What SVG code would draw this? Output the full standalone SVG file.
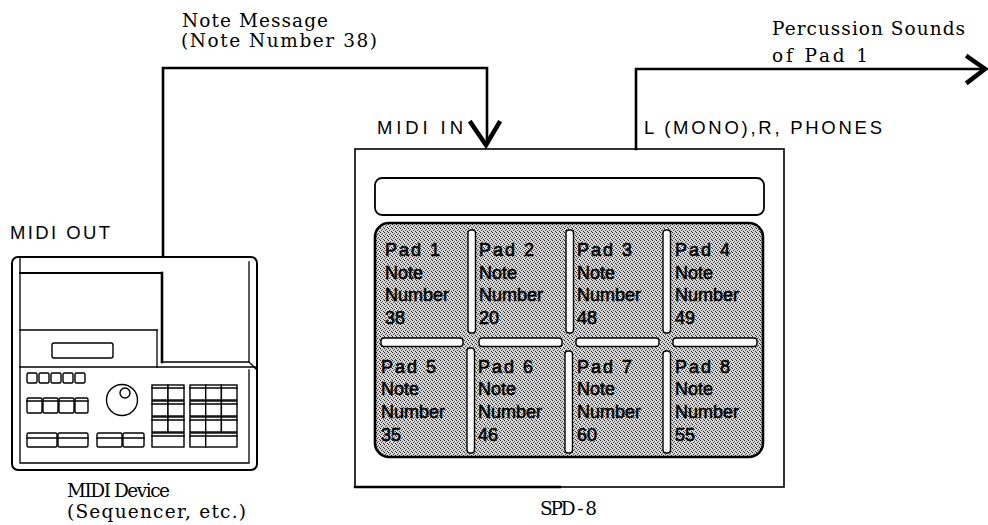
<svg xmlns="http://www.w3.org/2000/svg" width="988" height="525" viewBox="0 0 988 525">
  <defs>
    <pattern id="stipple" width="4" height="4" patternUnits="userSpaceOnUse">
      <rect width="4" height="4" fill="#d6d6d6"/>
      <rect x="0" y="0" width="1" height="1" fill="#222"/>
      <rect x="2" y="1" width="1" height="1" fill="#555"/>
      <rect x="1" y="2" width="1" height="1" fill="#444"/>
      <rect x="3" y="3" width="1" height="1" fill="#333"/>
    </pattern>
  </defs>
  <style>
    .ln { fill: none; stroke: #000; stroke-linecap: square; }
    .thin { stroke-width: 1.3; }
    .mid { stroke-width: 2; }
    .thick { stroke-width: 2.6; }
    .btn { fill: #fff; stroke: #000; stroke-width: 1.4; }
    .bar { fill: #fff; stroke: #000; stroke-width: 1.4; }
    .serif { font-family: "DejaVu Serif", "Liberation Serif", serif; font-size: 18.5px; fill: #000; }
    .sans { font-family: "Liberation Sans", Arial, sans-serif; font-size: 18.5px; fill: #000; }
    .pad { font-family: "Liberation Sans", Arial, sans-serif; font-size: 18px; fill: #000; stroke: #000; stroke-width: 0.55; }
  </style>

  <rect width="988" height="525" fill="#fff"/>

  <!-- Connectors -->
  <g id="connectors">
    <!-- MIDI OUT -> MIDI IN -->
    <polyline class="ln thick" points="163,256 163,68 487,68 487,140" stroke-linecap="butt"/>
    <polyline class="ln" points="471,123 486,145 499,123" stroke-width="4.5" stroke-linejoin="miter" stroke-linecap="butt"/>
    <!-- outputs -> external -->
    <polyline class="ln thick" points="636,149 636,69 982,69" stroke-linecap="butt"/>
    <polyline class="ln" points="968,57 985,69 968,82" stroke-width="4.5" stroke-linejoin="miter" stroke-linecap="butt"/>
  </g>

  <!-- Connector labels -->
  <g id="labels">
    <text class="serif" x="182" y="27" textLength="146" lengthAdjust="spacing">Note Message</text>
    <text class="serif" x="181" y="47" textLength="196" lengthAdjust="spacing">(Note Number 38)</text>
    <text class="serif" x="772" y="35" textLength="193" lengthAdjust="spacing">Percussion Sounds</text>
    <text class="serif" x="772" y="62" textLength="96" lengthAdjust="spacing">of Pad 1</text>
    <text class="sans" x="10" y="239" textLength="100" lengthAdjust="spacing">MIDI OUT</text>
    <text class="sans" x="377" y="134" textLength="86" lengthAdjust="spacing">MIDI IN</text>
    <text class="sans" x="644" y="134" textLength="238" lengthAdjust="spacing">L (MONO),R,  PHONES</text>
  </g>

  <!-- MIDI device (sequencer) -->
  <g id="midi-device">
    <rect x="12" y="257" width="245" height="213" rx="6" class="ln mid"/>
    <!-- inner frame -->
    <polyline class="ln thin" points="20,258 20,463 249,463 249,370"/>
    <polyline class="ln thin" points="249,262 249,362 162,362"/>
    <line class="ln thin" x1="249" y1="362" x2="257" y2="370"/>
    <line class="ln thin" x1="20" y1="367" x2="256" y2="367"/>
    <!-- lid and display section -->
    <line class="ln mid" x1="20" y1="273" x2="162" y2="273"/>
    <line class="ln" x1="162" y1="273" x2="162" y2="362" stroke-width="2.6"/>
    <line class="ln thin" x1="20" y1="330" x2="157" y2="330"/>
    <line class="ln thin" x1="157" y1="330" x2="157" y2="367"/>
    <rect x="52" y="343" width="61" height="15" rx="2" class="btn"/>
    <!-- small buttons -->
    <rect x="27" y="373" width="10" height="10" rx="1.5" class="btn"/>
    <rect x="39" y="373" width="10" height="10" rx="1.5" class="btn"/>
    <rect x="51" y="373" width="10" height="10" rx="1.5" class="btn"/>
    <rect x="63" y="373" width="10" height="10" rx="1.5" class="btn"/>
    <rect x="75" y="373" width="10" height="10" rx="1.5" class="btn"/>
    <!-- function buttons -->
    <rect x="27" y="398" width="15" height="15" rx="1.5" class="btn"/>
    <rect x="43" y="398" width="15" height="15" rx="1.5" class="btn"/>
    <rect x="59" y="398" width="15" height="15" rx="1.5" class="btn"/>
    <rect x="75" y="398" width="13" height="15" rx="1.5" class="btn"/>
    <line class="ln thin" x1="27" y1="401" x2="88" y2="401"/>
    <!-- lower keys -->
    <rect x="27" y="433" width="30" height="14" rx="1.5" class="btn"/>
    <rect x="58" y="433" width="30" height="14" rx="1.5" class="btn"/>
    <rect x="97" y="433" width="25" height="14" rx="1.5" class="btn"/>
    <rect x="123" y="433" width="21" height="14" rx="1.5" class="btn"/>
    <line class="ln thin" x1="27" y1="438" x2="88" y2="438"/>
    <line class="ln thin" x1="97" y1="438" x2="144" y2="438"/>
    <!-- dial -->
    <circle cx="122" cy="400" r="15.5" class="btn"/>
    <circle cx="125" cy="393" r="5" class="btn"/>
    <!-- left keypad -->
    <rect x="152" y="385" width="16" height="15" class="btn"/>
    <rect x="168" y="385" width="16" height="15" class="btn"/>
    <rect x="152" y="401" width="16" height="15" class="btn"/>
    <rect x="168" y="401" width="16" height="15" class="btn"/>
    <rect x="152" y="417" width="16" height="15" class="btn"/>
    <rect x="168" y="417" width="16" height="15" class="btn"/>
    <rect x="152" y="433" width="32" height="14" class="btn"/>
    <line class="ln thin" x1="152" y1="388" x2="184" y2="388"/>
    <line class="ln thin" x1="152" y1="404" x2="184" y2="404"/>
    <line class="ln thin" x1="152" y1="420" x2="184" y2="420"/>
    <line class="ln thin" x1="152" y1="436" x2="184" y2="436"/>
    <!-- right keypad -->
    <rect x="190" y="385" width="15.7" height="15" class="btn"/>
    <rect x="205.7" y="385" width="15.7" height="15" class="btn"/>
    <rect x="221.4" y="385" width="15.6" height="15" class="btn"/>
    <rect x="190" y="401" width="15.7" height="15" class="btn"/>
    <rect x="205.7" y="401" width="15.7" height="15" class="btn"/>
    <rect x="221.4" y="401" width="15.6" height="15" class="btn"/>
    <rect x="190" y="417" width="15.7" height="15" class="btn"/>
    <rect x="205.7" y="417" width="15.7" height="15" class="btn"/>
    <rect x="221.4" y="417" width="15.6" height="15" class="btn"/>
    <rect x="190" y="433" width="15.7" height="14" class="btn"/>
    <rect x="205.7" y="433" width="31.3" height="14" class="btn"/>
    <line class="ln thin" x1="190" y1="388" x2="237" y2="388"/>
    <line class="ln thin" x1="190" y1="404" x2="237" y2="404"/>
    <line class="ln thin" x1="190" y1="420" x2="237" y2="420"/>
    <line class="ln thin" x1="190" y1="436" x2="237" y2="436"/>
    <text class="serif" x="67" y="497" textLength="103" lengthAdjust="spacing">MIDI Device</text>
    <text class="serif" x="67" y="518" textLength="179" lengthAdjust="spacing">(Sequencer, etc.)</text>
  </g>

  <!-- SPD-8 unit -->
  <g id="spd-8">
    <rect x="355" y="149" width="429" height="338" class="ln" stroke-width="1.6"/>
    <line class="ln" x1="355" y1="487" x2="560" y2="487" stroke-width="2.4"/>
    <rect x="375" y="178" width="389" height="37" rx="7" class="ln" stroke-width="1.8"/>
    <rect x="375" y="223" width="388" height="234" rx="14" fill="url(#stipple)" stroke="#000" stroke-width="2.6"/>
    <!-- pad separators -->
    <rect x="468" y="230" width="7.5" height="103" rx="3" class="bar"/>
    <rect x="566" y="230" width="7.5" height="103" rx="3" class="bar"/>
    <rect x="663" y="230" width="7.5" height="103" rx="3" class="bar"/>
    <rect x="381" y="338" width="82" height="8.5" rx="3" class="bar"/>
    <rect x="479" y="338" width="83" height="8.5" rx="3" class="bar"/>
    <rect x="576" y="338" width="83" height="8.5" rx="3" class="bar"/>
    <rect x="673" y="338" width="84" height="8.5" rx="3" class="bar"/>
    <rect x="467" y="348" width="7.5" height="105" rx="3" class="bar"/>
    <rect x="565" y="351" width="7.5" height="102" rx="3" class="bar"/>
    <rect x="663" y="351" width="7.5" height="102" rx="3" class="bar"/>
    <text class="serif" x="540" y="515" font-size="14" textLength="57" lengthAdjust="spacing">SPD - 8</text>
  </g>

  <!-- Pads -->
  <g id="pad-1"><text class="pad" x="385" y="256" textLength="55" lengthAdjust="spacing">Pad 1</text><text class="pad" x="385" y="279">Note</text><text class="pad" x="385" y="301">Number</text><text class="pad" x="385" y="324">38</text></g>
  <g id="pad-2"><text class="pad" x="479" y="256" textLength="55" lengthAdjust="spacing">Pad 2</text><text class="pad" x="479" y="279">Note</text><text class="pad" x="479" y="301">Number</text><text class="pad" x="479" y="324">20</text></g>
  <g id="pad-3"><text class="pad" x="577" y="256" textLength="55" lengthAdjust="spacing">Pad 3</text><text class="pad" x="577" y="279">Note</text><text class="pad" x="577" y="301">Number</text><text class="pad" x="577" y="324">48</text></g>
  <g id="pad-4"><text class="pad" x="675" y="256" textLength="55" lengthAdjust="spacing">Pad 4</text><text class="pad" x="675" y="279">Note</text><text class="pad" x="675" y="301">Number</text><text class="pad" x="675" y="324">49</text></g>
  <g id="pad-5"><text class="pad" x="381" y="373" textLength="55" lengthAdjust="spacing">Pad 5</text><text class="pad" x="381" y="395">Note</text><text class="pad" x="381" y="418">Number</text><text class="pad" x="381" y="441">35</text></g>
  <g id="pad-6"><text class="pad" x="478" y="373" textLength="55" lengthAdjust="spacing">Pad 6</text><text class="pad" x="478" y="395">Note</text><text class="pad" x="478" y="418">Number</text><text class="pad" x="478" y="441">46</text></g>
  <g id="pad-7"><text class="pad" x="577" y="373" textLength="55" lengthAdjust="spacing">Pad 7</text><text class="pad" x="577" y="395">Note</text><text class="pad" x="577" y="418">Number</text><text class="pad" x="577" y="441">60</text></g>
  <g id="pad-8"><text class="pad" x="675" y="373" textLength="55" lengthAdjust="spacing">Pad 8</text><text class="pad" x="675" y="395">Note</text><text class="pad" x="675" y="418">Number</text><text class="pad" x="675" y="441">55</text></g>
</svg>
